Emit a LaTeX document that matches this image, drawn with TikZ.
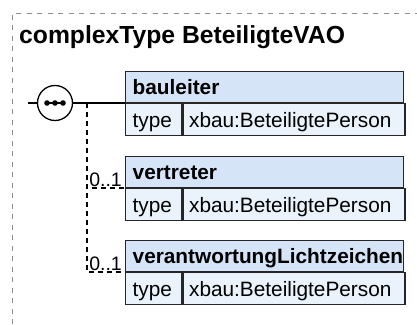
\documentclass[tikz,border=0pt]{standalone}
\usepackage{fontspec}
\setmainfont{Liberation Sans}
\usetikzlibrary{positioning}
\definecolor{hdrblue}{RGB}{214,228,247}
\definecolor{rowblue}{RGB}{234,242,252}
\definecolor{framegray}{RGB}{140,140,140}
\newcommand{\boxfont}{\fontsize{20.8}{24}\selectfont}

\begin{document}
\begin{tikzpicture}[x=1pt,y=-1pt,
    elhead/.style={draw=black!85,line width=1.4pt,fill=hdrblue,anchor=south west,
      text width=264pt,inner xsep=7pt,inner ysep=0pt,minimum height=31pt,
      text height=14.9pt,text depth=0pt,align=left,font=\boxfont\bfseries},
    elcell/.style={draw=black!85,line width=1.4pt,fill=rowblue,anchor=north west,
      inner ysep=0pt,minimum height=32pt,text height=14.9pt,text depth=0pt,
      align=left,font=\boxfont},
    seqline/.style={line width=1.3pt},
    optline/.style={line width=1.3pt,dash pattern=on 5pt off 4pt},
    occurs/.style={anchor=base east,inner sep=0pt,font=\fontsize{19.5}{22}\selectfont}]
  \useasboundingbox (0,0) rectangle (417,324);
  \draw[framegray,line width=1pt,dash pattern=on 5pt off 5.5pt] (12,324) -- (12,13) -- (417,13);
  \node[anchor=base west,inner sep=0pt,font=\fontsize{24.7}{28}\selectfont\bfseries] (title) at (19,43) {complexType BeteiligteVAO};

  % elements of the sequence
  \foreach \elname/\ypos in {bauleiter/103,vertreter/188,verantwortungLichtzeichen/272}{
    \node[elhead] (\elname) at (125,\ypos) {\elname};
    \node[elcell,text width=42pt,inner xsep=7pt] (\elname-typ) at (\elname.south west) {type};
    \node[elcell,text width=210pt,inner xsep=6pt] (\elname-wert) at (\elname-typ.north east) {xbau:BeteiligtePerson};
  }

  % sequence compositor
  \coordinate (seq) at (55,103);
  \coordinate (seqw) at (37.5,103);
  \coordinate (seqe) at (72.5,103);
  \draw[seqline,fill=white] (seq) circle (17.5);
  \draw[seqline] (45,103) -- (65,103);
  \foreach \dx in {47,55,63} \fill (\dx,103) circle (2.8);
  \coordinate (seqin) at (28,103);
  \coordinate (fork) at (87,103);
  \draw[seqline] (seqin) -- (seqw);
  \draw[seqline] (seqe) -- (bauleiter.south west);
  \draw[optline] (fork) |- (vertreter.south west);
  \draw[optline] (fork) |- (verantwortungLichtzeichen.south west);
  \node[occurs] (vertreterocc) at ([xshift=-3pt,yshift=2pt]vertreter.south west) {0..1};
  \node[occurs] (lichtocc) at ([xshift=-3pt,yshift=2pt]verantwortungLichtzeichen.south west) {0..1};
\end{tikzpicture}
\end{document}
